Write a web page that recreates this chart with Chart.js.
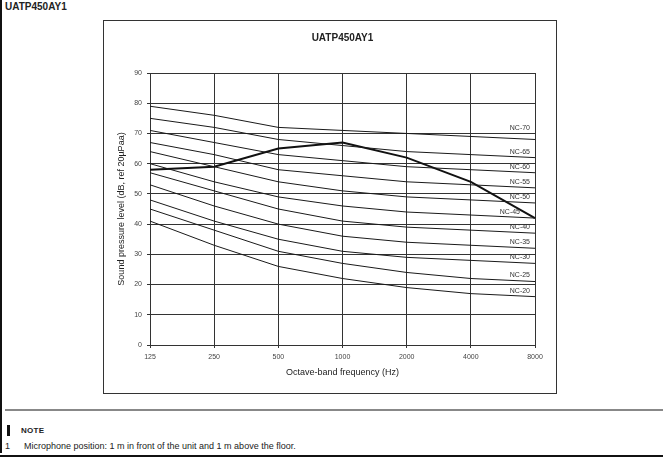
<!DOCTYPE html>
<html lang="en">
<head>
  <meta charset="UTF-8" />
  <title>UATP450AY1</title>
  <script src="https://cdn.jsdelivr.net/npm/chart.js"></script>
  <style>
    body {
      margin: 0;
      width: 663px;
      height: 472px;
      position: relative;
      background: #fff;
      font-family: "Liberation Sans", Arial, sans-serif;
      color: #222;
      overflow: hidden;
    }
    .side { position: absolute; left: 0; top: 0; width: 2px; height: 453px; background: #111; }
    .bottom { position: absolute; left: 0; right: 0; top: 455px; height: 2px; background: #111; }
    .page-title { position: absolute; left: 5px; top: 1px; font-size: 10px; font-weight: bold; }
    .box {
      position: absolute;
      left: 103px;
      top: 20px;
      width: 452px;
      height: 372px;
      border: 1px solid #333;
    }
    .rule { position: absolute; left: 5px; right: 0; top: 409px; height: 2px; background: #888; }
    .note-bar { position: absolute; left: 7px; top: 425px; width: 3px; height: 11px; background: #111; }
    .note-head { position: absolute; left: 21px; top: 426px; font-size: 8px; font-weight: bold; letter-spacing: 0.3px; }
    .note-num { position: absolute; left: 5px; top: 441px; font-size: 9px; }
    .note-text { position: absolute; left: 24px; top: 441px; font-size: 9px; }
  </style>
</head>
<body>
  <div class="side"></div>
  <div class="page-title">UATP450AY1</div>
  <div class="box">
    <canvas id="nc" width="452" height="372"></canvas>
  </div>
  <div class="rule"></div>
  <div class="note-bar"></div>
  <div class="note-head">NOTE</div>
  <div class="note-num">1</div>
  <div class="note-text">Microphone position: 1 m in front of the unit and 1 m above the floor.</div>
  <div class="bottom"></div>

  <script>
    // octave bands (Hz)
    const bands = ['125', '250', '500', '1000', '2000', '4000', '8000'];

    // NC reference curves
    const nc70 = [79, 76, 72, 71, 70, 69, 68];
    const nc65 = [75, 72, 68, 66, 64, 63, 62];
    const nc60 = [71, 67, 63, 61, 59, 58, 57];
    const nc55 = [67, 63, 58, 56, 54, 53, 52];
    const nc50 = [64, 59, 54, 51, 49, 48, 47];
    const nc45 = [60, 54, 49, 46, 44, 43, 42];
    const nc40 = [57, 51, 45, 41, 39, 38, 37];
    const nc35 = [53, 46, 40, 36, 34, 33, 32];
    const nc30 = [48, 41, 35, 31, 29, 28, 27];
    const nc25 = [45, 38, 31, 27, 24, 22, 21];
    const nc20 = [41, 33, 26, 22, 19, 17, 16];

    // measured unit spectrum
    const measured = [58, 59, 65, 67, 62, 54, 42];

    const ncNames = ['NC-70', 'NC-65', 'NC-60', 'NC-55', 'NC-50', 'NC-45', 'NC-40', 'NC-35', 'NC-30', 'NC-25', 'NC-20'];
    const ncSeries = [nc70, nc65, nc60, nc55, nc50, nc45, nc40, nc35, nc30, nc25, nc20];

    // small hand nudges for a couple of curve labels
    const labelNudge = { 'NC-70': { dx: 0, dy: -5 }, 'NC-45': { dx: -10, dy: 0 } };

    Chart.defaults.font.family = '"Liberation Sans", Arial, sans-serif';
    Chart.defaults.color = '#333';

    const datasets = ncSeries.map((vals, i) => ({
      label: ncNames[i],
      data: vals,
      borderColor: '#1a1a1a',
      borderWidth: 1,
      pointRadius: 0,
      fill: false
    }));
    datasets.push({
      label: 'UATP450AY1',
      data: measured,
      borderColor: '#111',
      borderWidth: 2,
      pointRadius: 0,
      fill: false
    });

    const ncLabels = {
      id: 'ncLabels',
      afterDatasetsDraw(chart) {
        const ctx = chart.ctx;
        const area = chart.chartArea;
        ctx.save();
        ctx.font = '7px "Liberation Sans", Arial, sans-serif';
        ctx.fillStyle = '#333';
        ctx.textAlign = 'right';
        ctx.textBaseline = 'middle';
        ncNames.forEach((name, i) => {
          const pts = chart.getDatasetMeta(i).data;
          const last = pts[pts.length - 1];
          const n = labelNudge[name] || { dx: 0, dy: 0 };
          ctx.fillText(name, area.right - 5 + n.dx, last.y - 6 + n.dy);
        });
        ctx.restore();
      }
    };

    new Chart(document.getElementById('nc'), {
      type: 'line',
      data: { labels: bands, datasets: datasets },
      plugins: [ncLabels],
      options: {
        responsive: false,
        animation: false,
        layout: { padding: { left: 0, right: 21, top: 0, bottom: 0 } },
        plugins: {
          legend: { display: false },
          tooltip: { enabled: false },
          title: {
            display: true,
            text: 'UATP450AY1',
            fullSize: false,
            color: '#222',
            font: { size: 10, weight: 'bold' },
            padding: { top: 11, bottom: 29 }
          }
        },
        scales: {
          x: {
            type: 'category',
            offset: false,
            grid: { color: '#333', offset: false, tickLength: 3 },
            border: { color: '#333' },
            ticks: { font: { size: 7 }, color: '#444', padding: 5, maxRotation: 0 },
            title: {
              display: true,
              text: 'Octave-band frequency (Hz)',
              color: '#222',
              font: { size: 9 },
              padding: { top: 0, bottom: 15 }
            },
            afterFit(scale) { scale.height = 48; }
          },
          y: {
            min: 0,
            max: 90,
            grid: { color: '#333', tickLength: 3 },
            border: { color: '#333' },
            ticks: { stepSize: 10, font: { size: 7 }, color: '#444', padding: 5 },
            title: {
              display: true,
              text: 'Sound pressure level (dB, ref 20µPaa)',
              color: '#222',
              font: { size: 9 },
              padding: { top: 12, bottom: 0 }
            },
            afterFit(scale) { scale.width = 46; }
          }
        }
      }
    });
  </script>
</body>
</html>
